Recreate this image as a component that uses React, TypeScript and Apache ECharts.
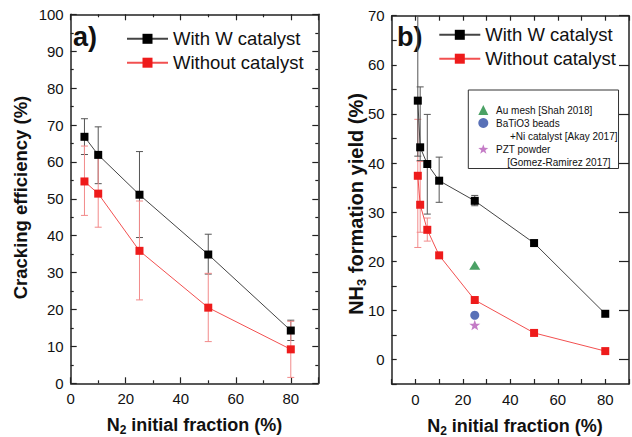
import React, { useEffect, useRef } from 'react';
import * as echarts from 'echarts';

const FONT = 'Liberation Sans, Arial, Helvetica, sans-serif';
const TXT = '#111';

// ---- panel a) cracking efficiency ----
const leftX = [5, 10, 25, 50, 80];
const crackWith = [66.8, 61.9, 51.1, 34.9, 14.3];
const crackWithLow = [62.0, 54.1, 39.5, 29.6, 11.6];
const crackWithHigh = [71.7, 69.5, 62.8, 40.4, 17.1];
const crackWithout = [54.7, 51.4, 35.9, 20.5, 9.2];
const crackWithoutLow = [45.5, 42.3, 22.6, 11.3, 1.6];
const crackWithoutHigh = [64.3, 61.3, 49.4, 29.8, 16.8];

// ---- panel b) NH3 formation yield ----
const rightX = [1, 2, 5, 10, 25, 50, 80];
const nh3With = [52.7, 43.2, 39.8, 36.4, 32.3, 23.7, 9.3];
const nh3WithLow = [41.4, 40.5, 29.6, 32.0, 31.3, 23.7, 9.3];
const nh3WithHigh = [75.0, 55.5, 49.9, 41.2, 33.4, 23.7, 9.3];
const nh3Without = [37.4, 31.5, 26.4, 21.2, 12.1, 5.4, 1.7];
const nh3WithoutLow = [22.8, 25.9, 24.1, 21.2, 12.1, 5.4, 1.7];
const nh3WithoutHigh = [48.9, 40.3, 28.8, 21.2, 12.1, 5.4, 1.7];

// literature reference points (x = N2 fraction, y = yield)
const refNames = ['Au mesh [Shah 2018]', 'BaTiO3 beads +Ni catalyst [Akay 2017]', 'PZT powder [Gomez-Ramirez 2017]'];
const refX = [25, 25, 25];
const refY = [19.2, 9.0, 7.0];

const leftXLabels = [0, 20, 40, 60, 80];
const rightXLabels = [0, 20, 40, 60, 80];
const rightYLabels = [0, 10, 20, 30, 40, 50, 60, 70];

const NAME_W = 'With W catalyst';
const NAME_N = 'Without catalyst';

const STAR = 'path://M0,-10 L2.35,-3.24 L9.51,-3.09 L3.8,1.24 L5.88,8.09 L0,4 L-5.88,8.09 L-3.8,1.24 L-9.51,-3.09 L-2.35,-3.24 Z';
const NB = '\u00a0';

function errData(xs: number[], lo: number[], hi: number[]) {
  const out: number[][] = [];
  xs.forEach((x, i) => {
    if (hi[i] > lo[i]) out.push([x, lo[i], hi[i]]);
  });
  return out;
}

function errRender(color: string) {
  return (params: any, api: any) => {
    const x = api.value(0);
    const lo = api.value(1);
    const hi = api.value(2);
    const a = api.coord([x, hi]);
    const b = api.coord([x, lo]);
    const cs = params.coordSys;
    const top = cs.y;
    const bottom = cs.y + cs.height;
    const style = { stroke: color, lineWidth: 1, fill: 'none' };
    const y1 = Math.max(a[1], top);
    const y2 = Math.min(b[1], bottom);
    const children: any[] = [
      { type: 'line', shape: { x1: a[0], y1, x2: a[0], y2 }, style },
    ];
    if (a[1] >= top) children.push({ type: 'line', shape: { x1: a[0] - 3.5, y1: a[1], x2: a[0] + 3.5, y2: a[1] }, style });
    if (b[1] <= bottom) children.push({ type: 'line', shape: { x1: b[0] - 3.5, y1: b[1], x2: b[0] + 3.5, y2: b[1] }, style });
    return { type: 'group', children };
  };
}

const axisLineStyle = { color: '#222', width: 1.5 };
const tickStyle = { color: '#222', width: 1.2 };
const labelBase = { color: TXT, fontSize: 15, fontFamily: FONT };

function makeOption(): any {
  const xAxis = [
    {
      gridIndex: 0, type: 'value', position: 'bottom', min: 0, max: 90, interval: 20,
      axisLine: { onZero: false, lineStyle: axisLineStyle },
      axisTick: { inside: true, length: 6, lineStyle: tickStyle },
      minorTick: { show: true, splitNumber: 2, length: 3, lineStyle: tickStyle },
      splitLine: { show: false }, minorSplitLine: { show: false },
      axisLabel: { ...labelBase, margin: 8, formatter: (v: number) => (leftXLabels.indexOf(v) >= 0 ? String(v) : '') },
    },
    {
      gridIndex: 0, type: 'value', position: 'top', min: 0, max: 90, interval: 20,
      axisLine: { onZero: false, lineStyle: axisLineStyle },
      axisTick: { inside: true, length: 6, lineStyle: tickStyle },
      minorTick: { show: true, splitNumber: 2, length: 3, lineStyle: tickStyle },
      splitLine: { show: false },
      axisLabel: { show: false },
    },
    {
      gridIndex: 1, type: 'value', position: 'bottom', min: -10, max: 90, interval: 10,
      axisLine: { onZero: false, lineStyle: axisLineStyle },
      axisTick: { inside: true, length: 5, lineStyle: tickStyle },
      splitLine: { show: false },
      axisLabel: { ...labelBase, margin: 8, formatter: (v: number) => (rightXLabels.indexOf(v) >= 0 ? String(v) : '') },
    },
    {
      gridIndex: 1, type: 'value', position: 'top', min: -10, max: 90, interval: 10,
      axisLine: { onZero: false, lineStyle: axisLineStyle },
      axisTick: { inside: true, length: 5, lineStyle: tickStyle },
      splitLine: { show: false },
      axisLabel: { show: false },
    },
  ];
  const yAxis = [
    {
      gridIndex: 0, type: 'value', position: 'left', min: 0, max: 100, interval: 10,
      axisLine: { onZero: false, lineStyle: axisLineStyle },
      axisTick: { inside: true, length: 6, lineStyle: tickStyle },
      minorTick: { show: true, splitNumber: 2, length: 3, lineStyle: tickStyle },
      splitLine: { show: false }, minorSplitLine: { show: false },
      axisLabel: { ...labelBase, margin: 7 },
    },
    {
      gridIndex: 0, type: 'value', position: 'right', min: 0, max: 100, interval: 10,
      axisLine: { onZero: false, lineStyle: axisLineStyle },
      axisTick: { inside: true, length: 6, lineStyle: tickStyle },
      minorTick: { show: true, splitNumber: 2, length: 3, lineStyle: tickStyle },
      splitLine: { show: false },
      axisLabel: { show: false },
    },
    {
      gridIndex: 1, type: 'value', position: 'left', min: -5, max: 70, interval: 5,
      axisLine: { onZero: false, lineStyle: axisLineStyle },
      axisTick: { inside: true, length: 5, lineStyle: tickStyle },
      splitLine: { show: false },
      axisLabel: { ...labelBase, margin: 7, formatter: (v: number) => (rightYLabels.indexOf(v) >= 0 ? String(v) : '') },
    },
    {
      gridIndex: 1, type: 'value', position: 'right', min: -5, max: 70, interval: 5,
      axisLine: { onZero: false, lineStyle: axisLineStyle },
      axisTick: { inside: true, length: 10, lineStyle: tickStyle, customValues: rightYLabels },
      splitLine: { show: false },
      axisLabel: { show: false },
    },
  ];

  const black = '#000';
  const blackLine = '#444';
  const blackErr = '#555';
  const red = '#ee1b1b';
  const redLine = '#f25050';
  const redErr = '#f28a8a';

  const series: any[] = [
    // panel a
    { type: 'custom', name: 'errA_W', xAxisIndex: 0, yAxisIndex: 0, z: 1, silent: true,
      renderItem: errRender(blackErr), encode: { x: 0, y: [1, 2] },
      data: errData(leftX, crackWithLow, crackWithHigh) },
    { type: 'custom', name: 'errA_N', xAxisIndex: 0, yAxisIndex: 0, z: 1, silent: true,
      renderItem: errRender(redErr), encode: { x: 0, y: [1, 2] },
      data: errData(leftX, crackWithoutLow, crackWithoutHigh) },
    { type: 'line', name: NAME_N, xAxisIndex: 0, yAxisIndex: 0, z: 2,
      symbol: 'rect', symbolSize: 8, showAllSymbol: true,
      itemStyle: { color: red }, lineStyle: { color: redLine, width: 1 },
      data: leftX.map((x, i) => [x, crackWithout[i]]) },
    { type: 'line', name: NAME_W, xAxisIndex: 0, yAxisIndex: 0, z: 3,
      symbol: 'rect', symbolSize: 8, showAllSymbol: true,
      itemStyle: { color: black }, lineStyle: { color: blackLine, width: 1 },
      data: leftX.map((x, i) => [x, crackWith[i]]) },
    // panel b
    { type: 'custom', name: 'errB_N', xAxisIndex: 2, yAxisIndex: 2, z: 1, silent: true,
      renderItem: errRender(redErr), encode: { x: 0, y: [1, 2] },
      data: errData(rightX, nh3WithoutLow, nh3WithoutHigh) },
    { type: 'custom', name: 'errB_W', xAxisIndex: 2, yAxisIndex: 2, z: 1, silent: true,
      renderItem: errRender(blackErr), encode: { x: 0, y: [1, 2] },
      data: errData(rightX, nh3WithLow, nh3WithHigh) },
    { type: 'line', name: NAME_N, xAxisIndex: 2, yAxisIndex: 2, z: 2,
      symbol: 'rect', symbolSize: 8, showAllSymbol: true,
      itemStyle: { color: red }, lineStyle: { color: redLine, width: 1 },
      data: rightX.map((x, i) => [x, nh3Without[i]]) },
    { type: 'line', name: NAME_W, xAxisIndex: 2, yAxisIndex: 2, z: 3,
      symbol: 'rect', symbolSize: 8, showAllSymbol: true,
      itemStyle: { color: black }, lineStyle: { color: blackLine, width: 1 },
      data: rightX.map((x, i) => [x, nh3With[i]]) },
    { type: 'scatter', name: refNames[0], xAxisIndex: 2, yAxisIndex: 2, z: 4,
      symbol: 'triangle', symbolSize: [11, 9], itemStyle: { color: '#1e8a3e' },
      data: [[refX[0], refY[0]]] },
    { type: 'scatter', name: refNames[1], xAxisIndex: 2, yAxisIndex: 2, z: 4,
      symbol: 'circle', symbolSize: 9, itemStyle: { color: '#2f4ea5' },
      data: [[refX[1], refY[1]]] },
    { type: 'scatter', name: refNames[2], xAxisIndex: 2, yAxisIndex: 2, z: 4,
      symbol: STAR, symbolSize: 11, symbolKeepAspect: true, itemStyle: { color: '#b55ab8' },
      data: [[refX[2], refY[2]]] },
  ];

  const mainLegendText = { fontSize: 18.5, fontFamily: FONT, color: TXT };
  const r10 = { fontSize: 10, fontFamily: FONT, color: TXT, lineHeight: 13 };

  const legend = [
    { left: 121, top: 24.3, orient: 'vertical', itemWidth: 41, itemHeight: 12.5, itemGap: 4.9,
      padding: 5, selectedMode: false, textStyle: mainLegendText, data: [NAME_W, NAME_N] },
    { left: 433.3, top: 20.3, orient: 'vertical', itemWidth: 41, itemHeight: 12.5, itemGap: 4.9,
      padding: 5, selectedMode: false, textStyle: mainLegendText, data: [NAME_W, NAME_N] },
    { left: 468.3, top: 90, orient: 'vertical', itemWidth: 10, itemHeight: 10, itemGap: -13,
      padding: [13.5, 1, 0, 10], borderColor: '#333', borderWidth: 1, selectedMode: false,
      textStyle: { ...r10, rich: { t: { ...r10 }, e: { ...r10 } } },
      formatter: (name: string) => {
        if (name === refNames[0]) return `${NB}Au mesh [Shah 2018]`;
        if (name === refNames[1]) return `{e|${NB}}\n{t|${NB}BaTiO3 beads}\n{t|${NB.repeat(6)}+Ni catalyst [Akay 2017]}`;
        return `{e|${NB}}\n{t|${NB}PZT powder}\n{t|${NB.repeat(5)}[Gomez-Ramirez 2017]}`;
      },
      data: refNames },
  ];

  const titleMain = (fs: number) => ({ fontSize: fs, fontWeight: 'bold', fontFamily: FONT, fill: TXT, lineHeight: fs + 4 });
  const titleSub = (fs: number) => ({ fontSize: fs, fontWeight: 'bold', fontFamily: FONT, fill: TXT, lineHeight: 11, verticalAlign: 'bottom' });

  const graphic = [
    { type: 'text', left: 73, top: 23, style: { text: 'a)', font: `bold 27px ${FONT}`, fill: TXT } },
    { type: 'text', left: 397, top: 23, style: { text: 'b)', font: `bold 27px ${FONT}`, fill: TXT } },
    { type: 'text', x: 20, y: 197.5, rotation: Math.PI / 2,
      style: { text: 'Cracking efficiency (%)', font: `bold 18.5px ${FONT}`, fill: TXT, align: 'center', verticalAlign: 'middle' } },
    { type: 'text', x: 355.5, y: 204, rotation: Math.PI / 2,
      style: { text: '{m|NH}{s|3}{m| formation yield (%)}', align: 'center', verticalAlign: 'middle',
        rich: { m: titleMain(20), s: titleSub(13) } } },
    { type: 'text', x: 194.5, y: 425,
      style: { text: '{m|N}{s|2}{m| initial fraction (%)}', align: 'center', verticalAlign: 'middle',
        rich: { m: titleMain(18), s: titleSub(12) } } },
    { type: 'text', x: 515, y: 426,
      style: { text: '{m|N}{s|2}{m| initial fraction (%)}', align: 'center', verticalAlign: 'middle',
        rich: { m: titleMain(18), s: titleSub(12) } } },
  ];

  return {
    animation: false,
    backgroundColor: '#fff',
    grid: [
      { left: 70.7, top: 14.3, width: 247.6, height: 369 },
      { left: 391.7, top: 15.7, width: 246.3, height: 368.3 },
    ],
    xAxis,
    yAxis,
    legend,
    series,
    graphic,
  };
}

export default function App() {
  const ref = useRef<HTMLDivElement>(null);
  useEffect(() => {
    if (!ref.current) return;
    const chart = echarts.init(ref.current, null, { renderer: 'svg' });
    chart.setOption(makeOption());
    return () => chart.dispose();
  }, []);
  return (
    <div
      ref={ref}
      style={{ position: 'fixed', left: 0, top: 0, width: 632, height: 437, background: '#fff' }}
    />
  );
}
